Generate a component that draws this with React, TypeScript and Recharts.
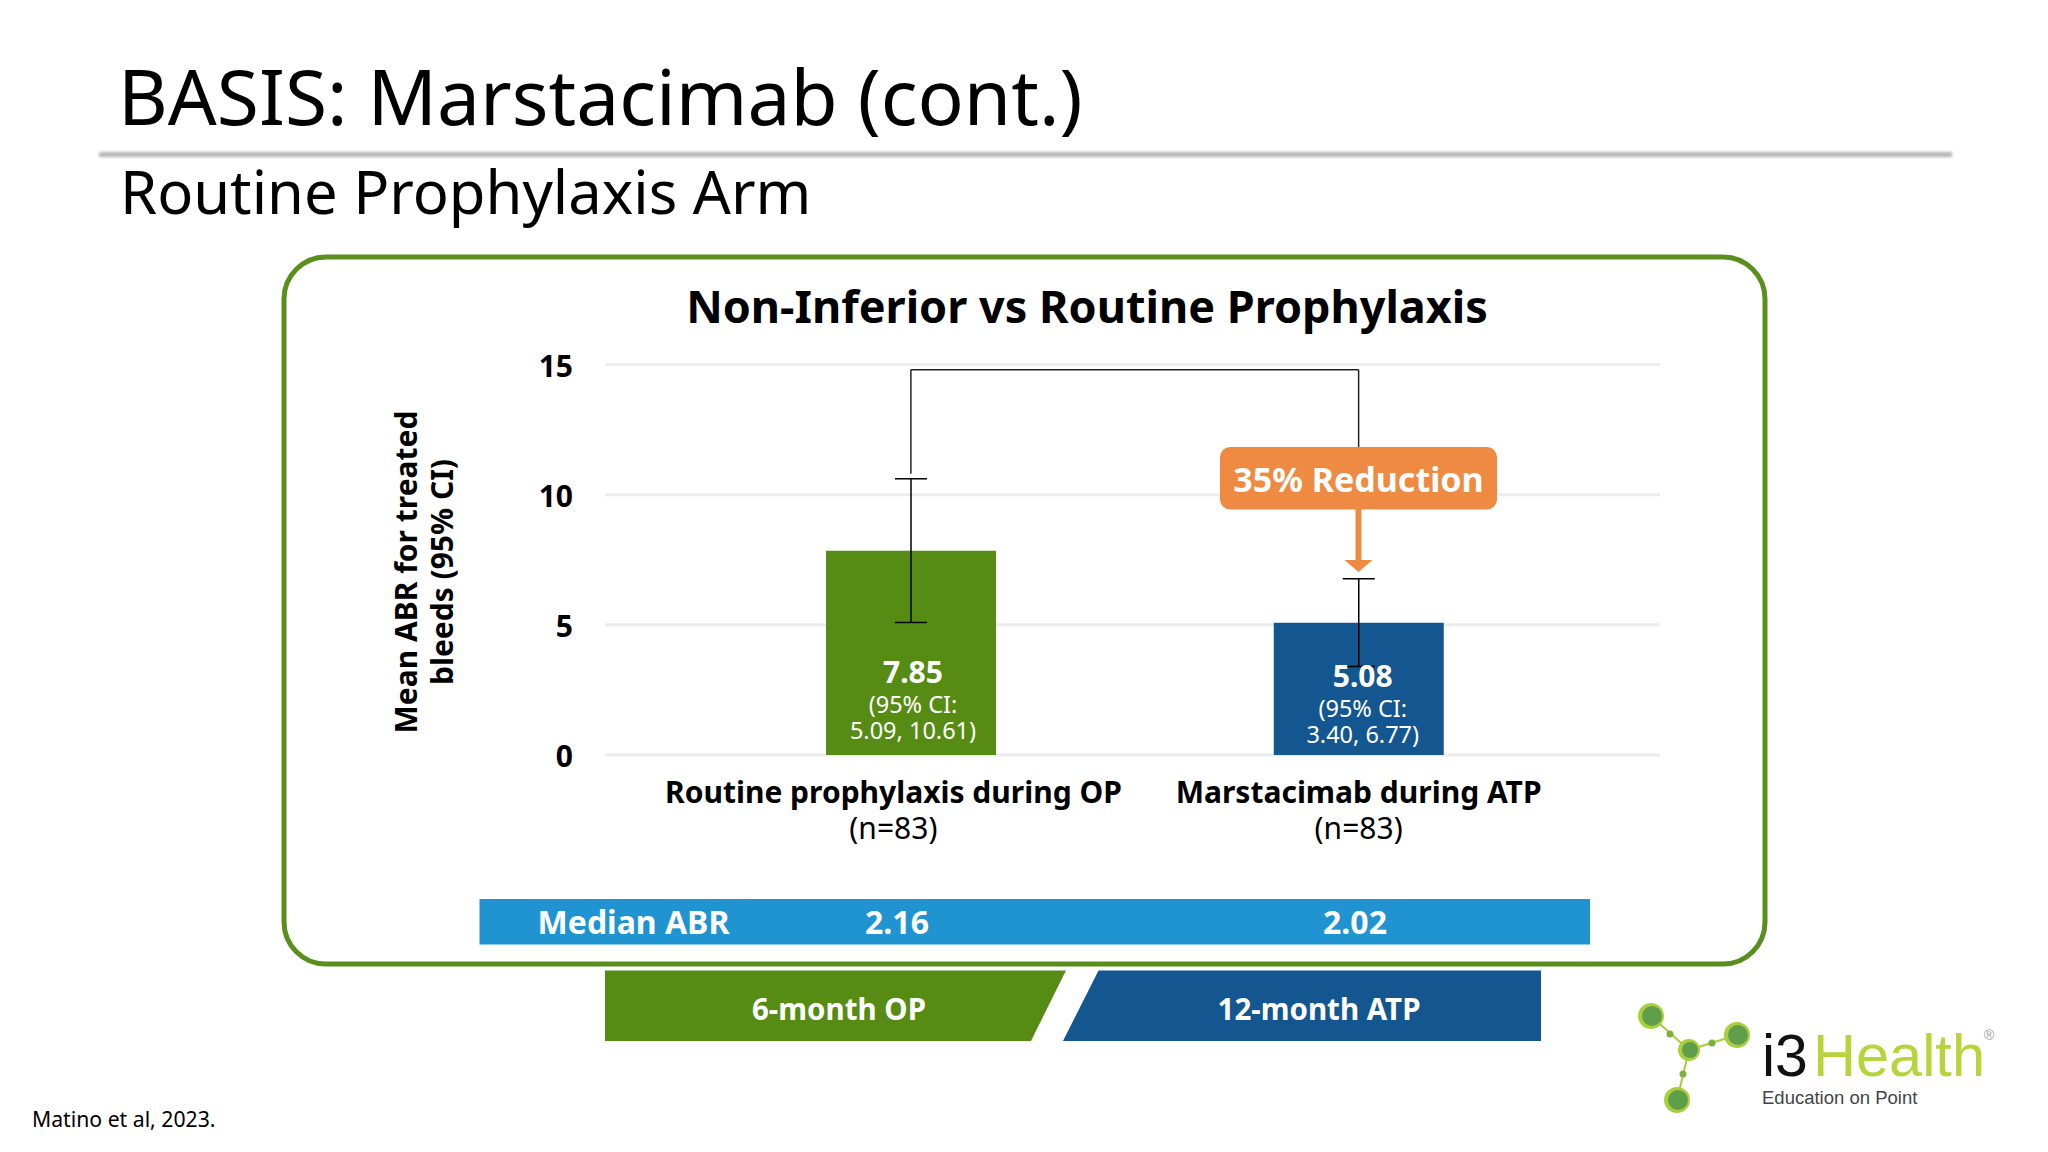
import React from "react";
import { BarChart, Bar, XAxis, YAxis, CartesianGrid, ErrorBar, LabelList, ReferenceLine, Label, Cell } from "recharts";

const categories = ["Routine prophylaxis during OP", "Marstacimab during ATP"];
const sampleSizes = ["(n=83)", "(n=83)"];
const meanAbr = [7.85, 5.08];
const ciLow = [5.09, 3.4];
const ciHigh = [10.61, 6.77];
const ciTexts = ["5.09, 10.61)", "3.40, 6.77)"];
const barColors = ["#568c14", "#14568f"];
const yTicks = [0, 5, 10, 15];
const medianAbr = ["2.16", "2.02"];
const periods = ["6-month OP", "12-month ATP"];
const bracketTop = 14.8;
const bracketStart = 10.8;
const bracketEnd = 11.8;

const rows = categories.map((name, i) => ({
  name,
  mean: meanAbr[i],
  err: [meanAbr[i] - ciLow[i], ciHigh[i] - meanAbr[i]],
}));

const FONT = '"Noto Sans", sans-serif';

function CategoryTick(props: any) {
  const { x, payload, index } = props;
  const cx = index === 0 ? x - 17.5 : x;
  return (
    <g fontFamily={FONT} textAnchor="middle" fill="#000">
      <text x={cx} y={803} fontSize={30} fontWeight={700}>{payload.value}</text>
      <text x={cx} y={839} fontSize={30}>{sampleSizes[index]}</text>
    </g>
  );
}

function ValueTick(props: any) {
  const { x, y, payload } = props;
  return (
    <text x={x} y={y + 12} textAnchor="end" fill="#000" fontSize={30} fontWeight={700} fontFamily={FONT}>
      {payload.value}
    </text>
  );
}

function BarText(props: any) {
  const { x, width, index, value } = props;
  const cx = x + width / 2 + (index === 0 ? 2 : 4);
  const base = index === 0 ? 683 : 687;
  return (
    <g fontFamily={FONT} textAnchor="middle" fill="#fff">
      <text x={cx} y={base} fontSize={30} fontWeight={700}>{value}</text>
      <text x={cx} y={base + 29.5} fontSize={23.5}>(95% CI:</text>
      <text x={cx} y={base + 55.5} fontSize={23.5}>{ciTexts[index]}</text>
    </g>
  );
}

function AxisTitle() {
  return (
    <g fontFamily={FONT} fontWeight={700} fontSize={30} textAnchor="middle" fill="#000">
      <text transform="translate(417,572) rotate(-90)">Mean ABR for treated</text>
      <text transform="translate(453,572) rotate(-90)">bleeds (95% CI)</text>
    </g>
  );
}

function Backdrop() {
  return (
    <svg width={2048} height={1152} style={{ position: "absolute", left: 0, top: 0 }} fontFamily={FONT}>
      <defs>
        <filter id="soft" x="-1%" y="-200%" width="102%" height="500%">
          <feGaussianBlur stdDeviation="1.8" />
        </filter>
      </defs>
      <text x={118} y={125} fontSize={76.7}>BASIS: Marstacimab (cont.)</text>
      <rect x={99} y={152} width={1853} height={5} fill="#b4b4b4" filter="url(#soft)" />
      <text x={120} y={214} fontSize={59.7}>Routine Prophylaxis Arm</text>
      <rect x={284} y={257} width={1481} height={707} rx={42} fill="#fff" stroke="#5a8f1e" strokeWidth={5} />
      <text x={1087} y={322.5} fontSize={45} fontWeight={700} textAnchor="middle">Non-Inferior vs Routine Prophylaxis</text>
      <rect x={479.5} y={899} width={1110.5} height={45.5} fill="#2093d1" />
      <g fill="#fff" fontWeight={700} fontSize={32} textAnchor="middle">
        <text x={633.5} y={934}>Median ABR</text>
        <text x={897} y={934}>{medianAbr[0]}</text>
        <text x={1355} y={934}>{medianAbr[1]}</text>
      </g>
      <polygon points="605,970.5 1066,970.5 1031,1041 605,1041" fill="#568c14" />
      <polygon points="1098.5,970.5 1541,970.5 1541,1041 1063,1041" fill="#14568f" />
      <g fill="#fff" fontWeight={700} fontSize={29.5} textAnchor="middle">
        <text x={839} y={1020}>{periods[0]}</text>
        <text x={1319} y={1020}>{periods[1]}</text>
      </g>
      <text x={32} y={1127} fontSize={21.2}>Matino et al, 2023.</text>
    </svg>
  );
}

function Logo() {
  const big: [number, number, number][] = [[1651, 1016, 13], [1737, 1035, 13], [1689, 1050, 11], [1677, 1100, 13]];
  const small: [number, number][] = [[1670, 1034], [1712, 1043], [1683, 1074]];
  return (
    <g>
      <g stroke="#a9cc3a" strokeWidth={2}>
        <line x1={1651} y1={1016} x2={1689} y2={1050} />
        <line x1={1737} y1={1035} x2={1689} y2={1050} />
        <line x1={1677} y1={1100} x2={1689} y2={1050} />
      </g>
      {big.map(([x, y, r], i) => (
        <g key={i}>
          <circle cx={x} cy={y} r={r} fill="#a9cf3c" />
          <circle cx={x + 1} cy={y} r={r - 3} fill="#609f4a" />
        </g>
      ))}
      {small.map(([x, y], i) => (
        <circle key={i} cx={x} cy={y} r={3.5} fill="#7fb03c" />
      ))}
      <g fontFamily='"Liberation Sans", sans-serif'>
        <text x={1762} y={1076} fontSize={59} fill="#111">i3</text>
        <text x={1813} y={1076} fontSize={59.5} fill="#b5d53a">Health</text>
        <text x={1762} y={1104} fontSize={18.5} fill="#444">Education on Point</text>
        <text x={1984} y={1040} fontSize={14} fill="#999">®</text>
      </g>
    </g>
  );
}

function Overlay() {
  return (
    <svg width={2048} height={1152} style={{ position: "absolute", left: 0, top: 0, pointerEvents: "none" }} fontFamily={FONT}>
      <rect x={1220} y={447} width={277} height={62.5} rx={10} fill="#ee8a42" />
      <text x={1358.5} y={491.5} fontSize={34} fontWeight={700} fill="#fff" textAnchor="middle">35% Reduction</text>
      <rect x={1355.5} y={509} width={6} height={52} fill="#ee8a42" />
      <polygon points="1344.5,560 1372.5,560 1358.5,572" fill="#ee8a42" />
      <Logo />
    </svg>
  );
}

export default function App() {
  return (
    <div style={{ position: "absolute", left: 0, top: 0, width: 2048, height: 1152, background: "#fff" }}>
      <Backdrop />
      <div style={{ position: "absolute", left: 0, top: 0 }}>
        <BarChart
          width={2048}
          height={1152}
          data={rows}
          margin={{ left: 505, top: 364.5, right: 388, bottom: 337 }}
          barSize={170}
        >
          <CartesianGrid vertical={false} stroke="#ececec" strokeWidth={3} />
          <XAxis
            dataKey="name"
            height={60}
            axisLine={false}
            tickLine={false}
            interval={0}
            padding={{ left: 82, right: 77.5 }}
            tick={<CategoryTick />}
          />
          <YAxis
            width={100}
            domain={[0, 15]}
            ticks={yTicks}
            axisLine={false}
            tickLine={false}
            tickSize={0}
            tickMargin={32}
            tick={<ValueTick />}
          >
            <Label content={<AxisTitle />} />
          </YAxis>
          <Bar dataKey="mean" isAnimationActive={false}>
            {rows.map((r, i) => (
              <Cell key={r.name} fill={barColors[i]} />
            ))}
            <ErrorBar dataKey="err" width={16} stroke="#000" strokeWidth={1.5} isAnimationActive={false} />
            <LabelList dataKey="mean" content={<BarText />} />
          </Bar>
          <ReferenceLine segment={[{ x: categories[0], y: bracketStart }, { x: categories[0], y: bracketTop }]} stroke="#222" strokeWidth={1.5} />
          <ReferenceLine segment={[{ x: categories[0], y: bracketTop }, { x: categories[1], y: bracketTop }]} stroke="#222" strokeWidth={1.5} />
          <ReferenceLine segment={[{ x: categories[1], y: bracketTop }, { x: categories[1], y: bracketEnd }]} stroke="#222" strokeWidth={1.5} />
        </BarChart>
      </div>
      <Overlay />
    </div>
  );
}
